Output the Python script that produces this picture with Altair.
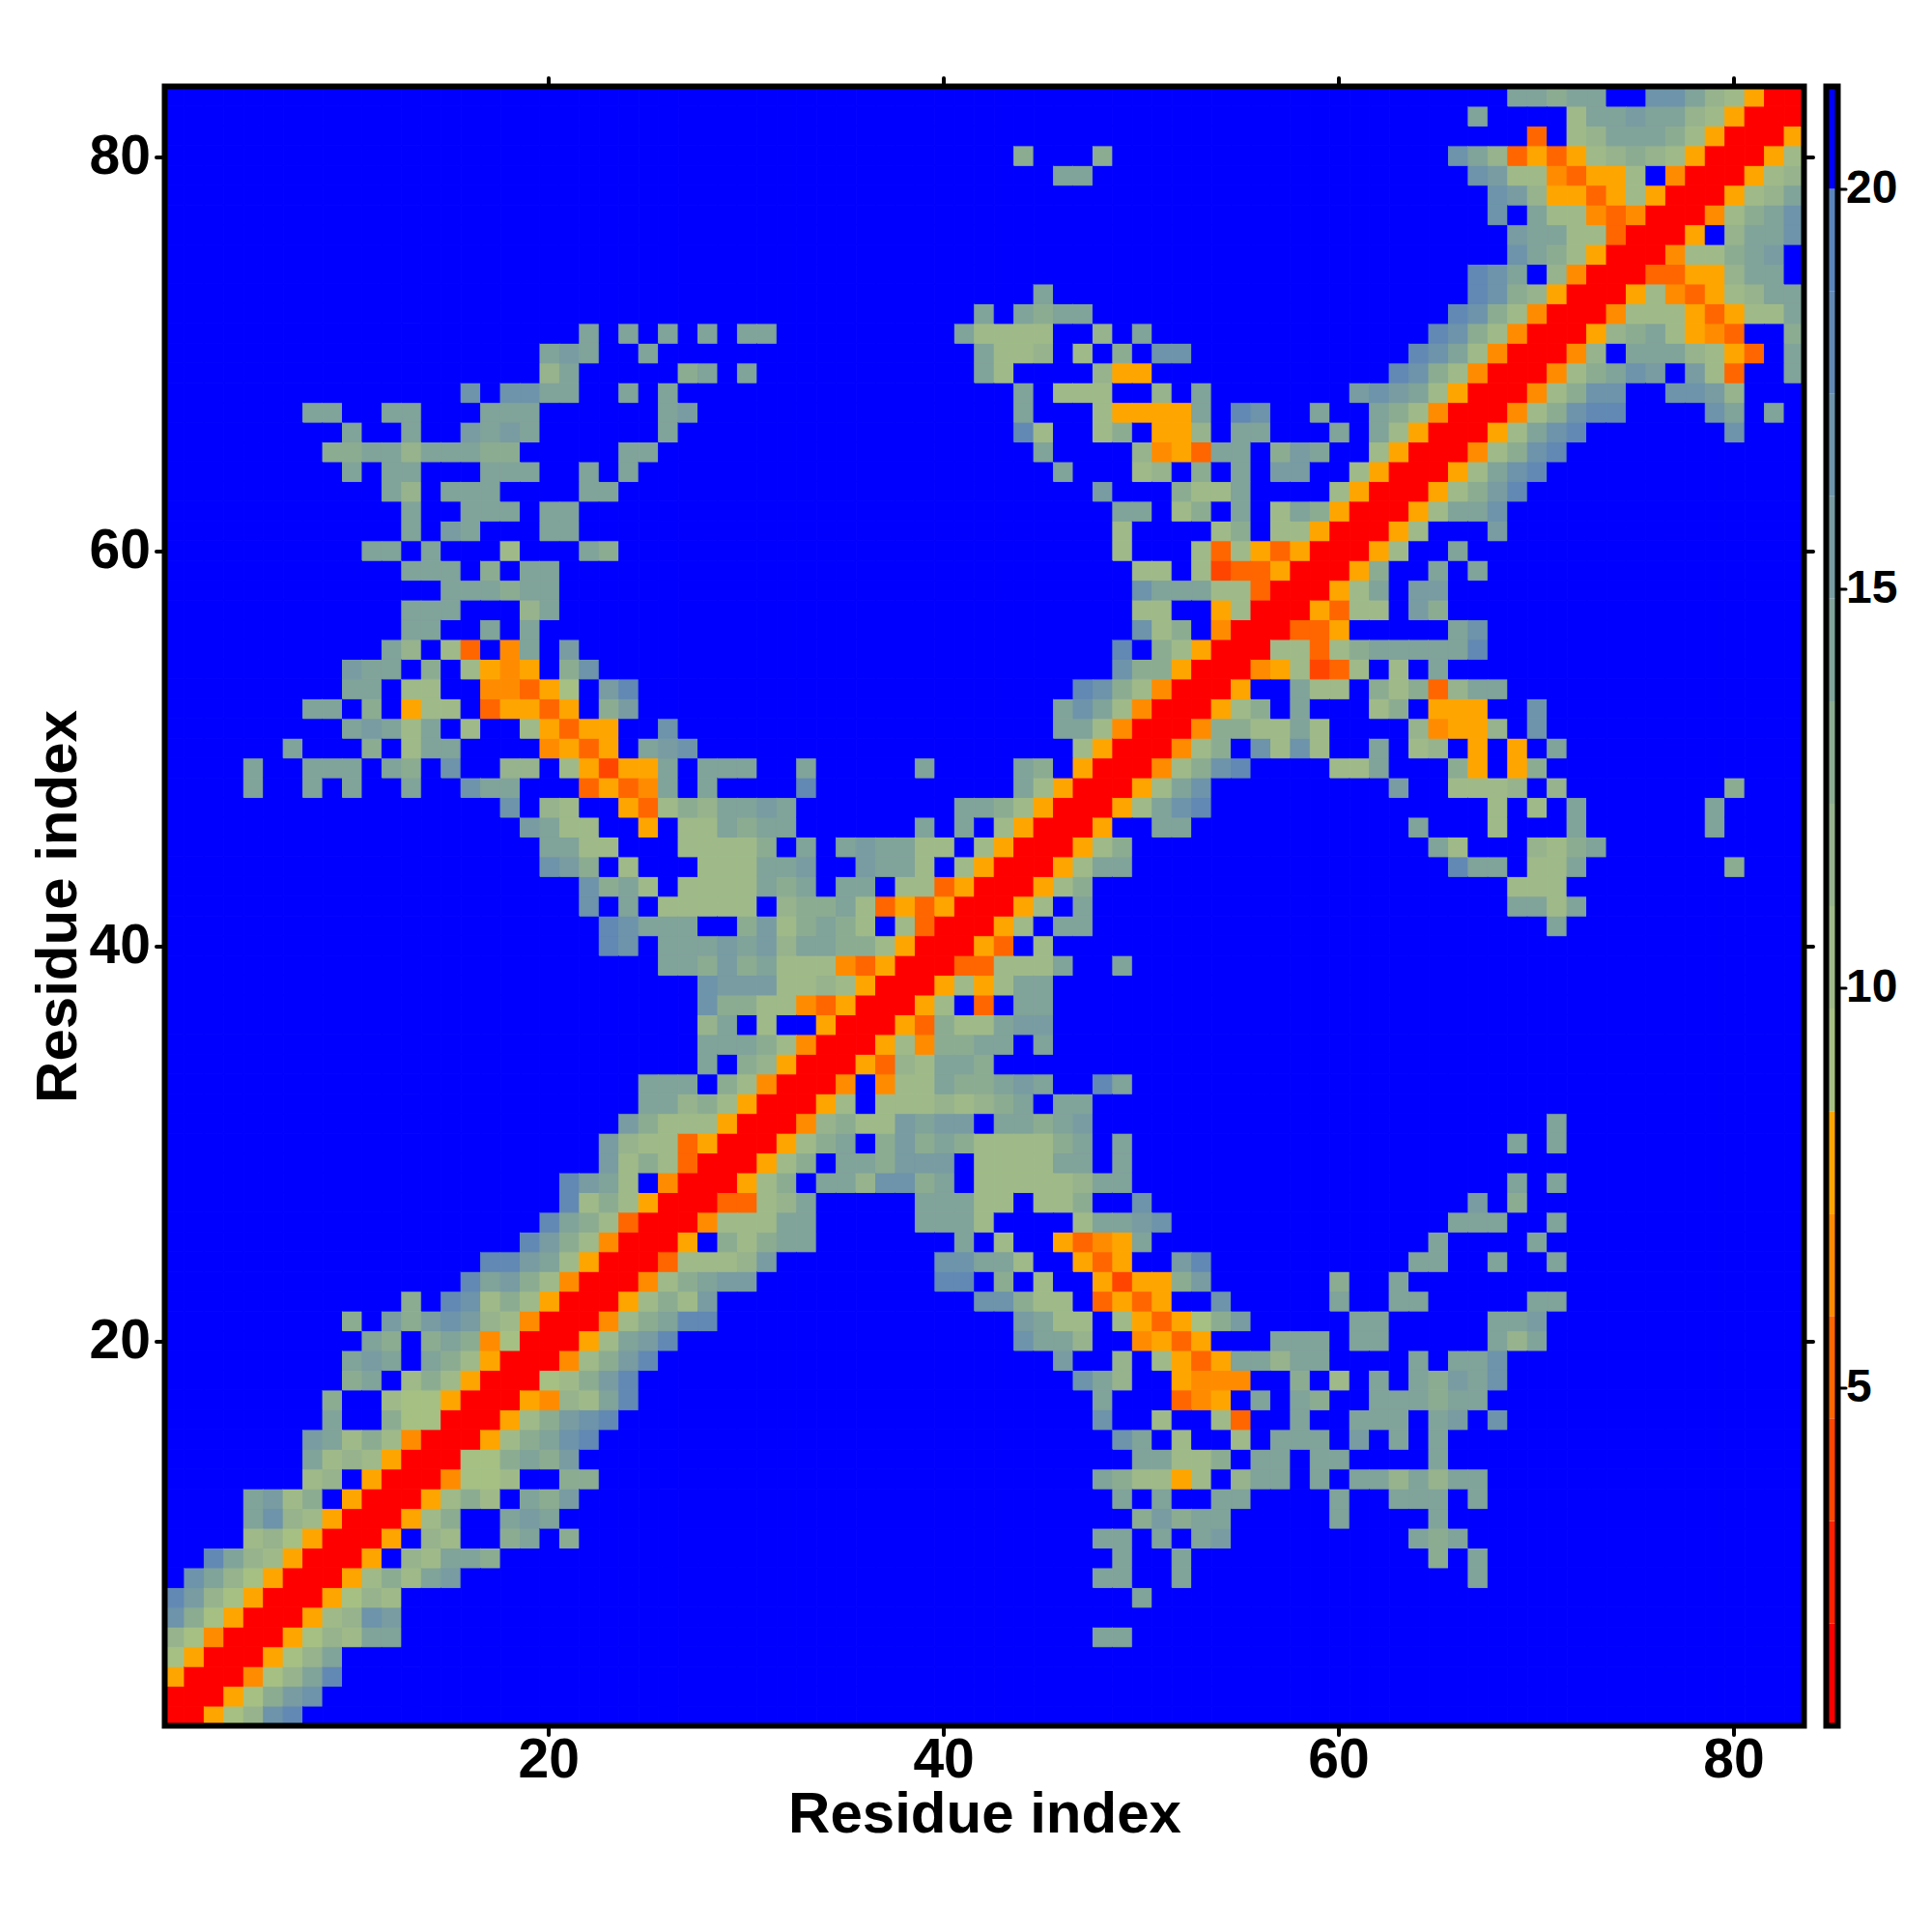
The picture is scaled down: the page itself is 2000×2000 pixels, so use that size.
import altair as alt
import pandas as pd

N = 83
FONT = "Liberation Sans"

# colour-bar limits and its 16 discrete bands (distance), low to high
BAR_LOW = 0.74
BAR_HIGH = 21.24
BAND_COLORS = ["#ff0000", "#ff2000", "#ff4500", "#ff6600", "#ff8c00", "#ffa500",
               "#a6c084", "#9fba88", "#96b38d", "#8cac92", "#80a39a", "#789ca2",
               "#6d94aa", "#6289b4", "#5a85bc", "#0000ff"]
CODES = "0123456789ABCDEF"

# one string per row y = 1..83; first character is the cell at x = y, then x = y+1, ...
# (code = colour-band index, F = blue)
BAND_ROWS = [
    "00568CD", "00569BC", "00468AD", "00568A", "005687AA", "00578CB", "005687",
    "005797AB", "005F87AA9", "005F87FF9AF9", "00579FFABA", "005797FA9B",
    "004667FF99", "00669A9B", "00579ACD", "00579BCD", "005487AD", "00679BD",
    "00479BD", "0057ABD", "00479ADD", "005797B", "00479ABB", "0037778B",
    "005F979AA", "004777AA", "003378A", "00579FAA8CC9AF777778AA",
    "00579FAA9BBBF7777AAFA", "00579AF9B9A977779AFA", "0048977BABBFAA9AB",
    "0057F7778789AFAA", "004F477A99ABAFFDA", "005387AA9", "0057499AAFA",
    "0053977ABB", "0057F3FAA", "005757AA", "0033777AFFA", "0053F7", "0057FAA",
    "0057FA", "00579", "0057AA", "00579", "005FFAA", "0057ACD", "0057AC",
    "00479CD", "00479FC7C7", "0049977A7", "00579FA", "005FFA77F97938AA",
    "00457237F7FA", "0077379AAAAAD", "00335", "005377FB9", "0057AFBB",
    "0059FFAFA", "0057FFA", "0057FFFB", "0057AAC", "00579BD", "0057ACD",
    "00479CD", "0057ACD", "00479CDD", "00479CC", "00479ACBFB73FFA",
    "0048FAAA8753FA", "00589A7543FF9", "00477753577A", "005743578AA",
    "0033558AAF", "004779ABF", "005F8AAC", "00479AC", "00578A", "00578", "0057",
    "005", "00", "0",
]

# detached patches: row y -> (first x, codes)
FAR_CELLS = {
    5: [(48, "AA")], 7: [(50, "A")],
    8: [(48, "AA"), (52, "A"), (67, "A")],
    9: [(49, "A"), (52, "A"), (65, "9"), (67, "A")],
    10: [(48, "AA"), (51, "A"), (53, "AB"), (64, "A9A")],
    11: [(50, "9B9AA"), (60, "A"), (65, "A")],
    12: [(49, "A"), (51, "A"), (54, "AA"), (60, "A"), (63, "AAA"), (67, "A")],
    13: [(48, "A97757F8AAFAFAA8A8AA")],
    14: [(50, "AA779FAAFAA"), (65, "A")],
    15: [(49, "CAF7FF7FAAAFBFAFA")],
    16: [(48, "C"), (51, "7"), (54, "73"), (58, "A"), (61, "AAA"), (65, "AB"), (68, "C")],
    17: [(48, "A"), (52, "345"), (56, "A"), (58, "A9"), (62, "AAA9AA")],
    18: [(47, "CA8"), (52, "5444"), (58, "9"), (60, "7"), (62, "A"), (64, "A9BAC")],
    19: [(46, "B"), (49, "8"), (51, "7535AA8AA"), (64, "A"), (66, "AAC")],
    20: [(44, "CAA8"), (50, "4535"), (57, "AAA"), (61, "AA"), (68, "A8A")],
    21: [(44, "BA77"), (49, "753569B"), (61, "AA"), (68, "AAB")],
    22: [(42, "CC977"), (48, "3535"), (54, "C"), (60, "A"), (63, "AA"), (70, "AA")],
    23: [(40, "DD"), (43, "9"), (45, "7"), (48, "52559B"), (60, "9"), (63, "A")],
    24: [(40, "CCAA7"), (47, "535"), (52, "BD"), (64, "AA"), (68, "A"), (71, "A")],
    25: [(41, "A"), (43, "7"), (46, "5345A"), (65, "A"), (70, "A")],
    26: [(39, "AAA7"), (47, "7AABC"), (66, "AAA"), (71, "A")],
    27: [(39, "AAA77"), (45, "779"), (50, "C"), (67, "B"), (69, "9")],
    28: [(69, "A"), (71, "A")], 30: [(69, "A"), (71, "A")], 31: [(71, "A")],
    41: [(71, "A")], 42: [(69, "AA7A")], 43: [(69, "777")],
    44: [(66, "DAA"), (70, "77A"), (80, "9")],
    45: [(65, "A7"), (70, "879A")],
    46: [(64, "A"), (68, "7"), (72, "A"), (79, "A")],
    47: [(68, "7"), (70, "7"), (72, "A"), (79, "A")],
    48: [(63, "B"), (66, "7778"), (71, "8"), (80, "9")],
    49: [(60, "77A"), (66, "95F59")],
    50: [(62, "A"), (64, "78F5F5FA")],
    51: [(64, "84558"), (70, "C")],
    52: [(62, "79"), (65, "555"), (70, "C")],
    56: [(66, "AC")],
    66: [(80, "C")],
    67: [(79, "CA"), (82, "A")],
    68: [(77, "CCB8")],
}

X_TICKS = [20, 40, 60, 80]
BAR_TICKS = [5, 10, 15, 20]

step = (BAR_HIGH - BAR_LOW) / len(BAND_COLORS)
edges = [BAR_LOW + step * i for i in range(len(BAND_COLORS) + 1)]

grid = {}
for y, text in enumerate(BAND_ROWS, start=1):
    for k, ch in enumerate(text):
        grid[(y + k, y)] = CODES.index(ch)
for y, patches in FAR_CELLS.items():
    for start, text in patches:
        for k, ch in enumerate(text):
            grid[(start + k, y)] = CODES.index(ch)

records = []
for x in range(1, N + 1):
    for y in range(1, N + 1):
        code = grid.get((max(x, y), min(x, y)), 15)
        records.append({"x0": x - 0.5, "x1": x + 0.5, "y0": y - 0.5, "y1": y + 0.5,
                        "d": edges[code] + step / 2})
df = pd.DataFrame(records)

color_scale = alt.Scale(type="threshold", domain=edges[1:-1], range=BAND_COLORS)
pos_scale = alt.Scale(domain=[0.5, N + 0.5], nice=False, zero=False)

tick_style = dict(tickColor="black", tickWidth=4, tickSize=9, tickCap="round", domain=False, grid=False)
label_style = dict(labelFont=FONT, labelFontWeight="bold", labelFontSize=57, labelColor="black")
title_style = dict(titleFont=FONT, titleFontWeight="bold", titleFontSize=60, titleColor="black")

cells = alt.Chart(df).mark_rect(strokeWidth=1).encode(
    x=alt.X("x0:Q", scale=pos_scale,
            axis=alt.Axis(values=X_TICKS, title="Residue index", labelPadding=-1.5, titlePadding=-0.5,
                          tickOffset=-1.5, format="d", labelFlush=False,
                          **tick_style, **label_style, **title_style)),
    x2="x1:Q",
    y=alt.Y("y0:Q", scale=pos_scale,
            axis=alt.Axis(values=X_TICKS, title="Residue index", labelPadding=6, titlePadding=1,
                          tickOffset=1, format="d", labelFlush=False,
                          **tick_style, **label_style, **title_style)),
    y2="y1:Q",
    color=alt.Color("d:Q", scale=color_scale, legend=None),
    stroke=alt.Color("d:Q", scale=color_scale, legend=None),
)

tick_df = pd.DataFrame({"x": X_TICKS, "y": X_TICKS})
opposite = alt.Chart(tick_df).mark_point(opacity=0).encode(
    x=alt.X("x:Q", scale=pos_scale,
            axis=alt.Axis(orient="top", values=X_TICKS, title=None, labels=False, tickOffset=-1.5, **tick_style)),
    y=alt.Y("y:Q", scale=pos_scale,
            axis=alt.Axis(orient="right", values=X_TICKS, title=None, labels=False, tickOffset=1, **tick_style)),
)

frame_df = pd.DataFrame({"x0": [0.5], "x1": [N + 0.5], "y0": [0.5], "y1": [N + 0.5]})
frame = alt.Chart(frame_df).mark_rect(fill="transparent", stroke="black", strokeWidth=6).encode(
    x=alt.X("x0:Q", scale=pos_scale, axis=None), x2="x1:Q",
    y=alt.Y("y0:Q", scale=pos_scale, axis=None), y2="y1:Q",
)

main = alt.layer(cells, opposite, frame).resolve_axis(x="independent", y="independent").properties(
    width=1697, height=1697,
)

bar_scale = alt.Scale(domain=[BAR_LOW, BAR_HIGH], nice=False, zero=False)
bar_df = pd.DataFrame({"lo": edges[:-1], "hi": edges[1:], "color": BAND_COLORS})
bar_rects = alt.Chart(bar_df).mark_rect().encode(
    y=alt.Y("lo:Q", scale=bar_scale,
            axis=alt.Axis(orient="right", values=BAR_TICKS, title=None, format="d", labelPadding=0,
                          tickOffset=3, tickColor="black", tickWidth=3, tickSize=8, tickCap="round",
                          domain=False, grid=False, labelFont=FONT, labelFontWeight="bold",
                          labelFontSize=48, labelColor="black", labelFlush=False)),
    y2="hi:Q",
    color=alt.Color("color:N", scale=None, legend=None),
)
bar_frame_df = pd.DataFrame({"lo": [BAR_LOW], "hi": [BAR_HIGH]})
bar_frame = alt.Chart(bar_frame_df).mark_rect(fill="transparent", stroke="black", strokeWidth=6).encode(
    y=alt.Y("lo:Q", scale=bar_scale, axis=None), y2="hi:Q",
)
bar = alt.layer(bar_rects, bar_frame).resolve_axis(y="independent").properties(width=12, height=1697)

chart = alt.hconcat(main, bar, spacing=23, bounds="flush").properties(
    padding={"left": 21.5, "top": 70.5, "right": 5, "bottom": 5},
    background="white",
).configure_view(strokeWidth=0)

chart.save("out.html", embed_options={"renderer": "svg", "actions": False})
